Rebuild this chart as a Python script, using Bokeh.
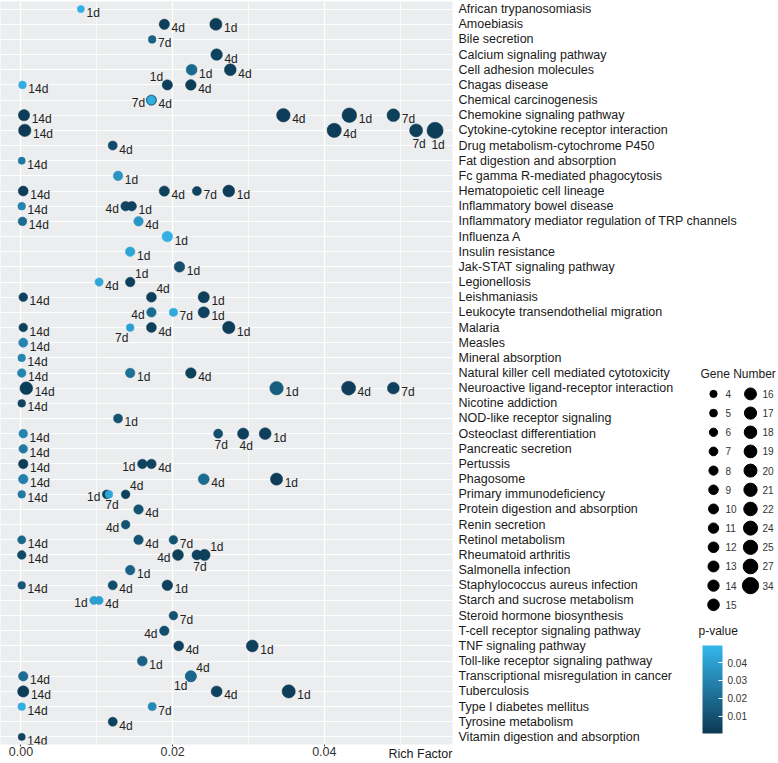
import numpy as np
from bokeh.plotting import figure
from bokeh.models import (ColumnDataSource, FactorRange, Range1d, LinearColorMapper, ColorBar,
                          SingleIntervalTicker, NumeralTickFormatter, FixedTicker,
                          PrintfTickFormatter)
from bokeh.layouts import row
from bokeh.embed import file_html
from bokeh.resources import INLINE
from bokeh.core.properties import value

# ---------------- data ----------------
pathways = [
    "African trypanosomiasis", "Amoebiasis", "Bile secretion", "Calcium signaling pathway",
    "Cell adhesion molecules", "Chagas disease", "Chemical carcinogenesis",
    "Chemokine signaling pathway", "Cytokine-cytokine receptor interaction",
    "Drug metabolism-cytochrome P450", "Fat digestion and absorption",
    "Fc gamma R-mediated phagocytosis", "Hematopoietic cell lineage",
    "Inflammatory bowel disease", "Inflammatory mediator regulation of TRP channels",
    "Influenza A", "Insulin resistance", "Jak-STAT signaling pathway", "Legionellosis",
    "Leishmaniasis", "Leukocyte transendothelial migration", "Malaria", "Measles",
    "Mineral absorption", "Natural killer cell mediated cytotoxicity",
    "Neuroactive ligand-receptor interaction", "Nicotine addiction",
    "NOD-like receptor signaling", "Osteoclast differentiation", "Pancreatic secretion",
    "Pertussis", "Phagosome", "Primary immunodeficiency", "Protein digestion and absorption",
    "Renin secretion", "Retinol metabolism", "Rheumatoid arthritis", "Salmonella infection",
    "Staphylococcus aureus infection", "Starch and sucrose metabolism",
    "Steroid hormone biosynthesis", "T-cell receptor signaling pathway",
    "TNF signaling pathway", "Toll-like receptor signaling pathway",
    "Transcriptional misregulation in cancer", "Tuberculosis", "Type I diabetes mellitus",
    "Tyrosine metabolism", "Vitamin digestion and absorption",
]

pt_path = [
    "African trypanosomiasis",
    "Amoebiasis", "Amoebiasis",
    "Bile secretion",
    "Calcium signaling pathway",
    "Cell adhesion molecules", "Cell adhesion molecules",
    "Chagas disease", "Chagas disease", "Chagas disease",
    "Chemical carcinogenesis", "Chemical carcinogenesis",
    "Chemokine signaling pathway", "Chemokine signaling pathway", "Chemokine signaling pathway", "Chemokine signaling pathway",
    "Cytokine-cytokine receptor interaction", "Cytokine-cytokine receptor interaction",
    "Cytokine-cytokine receptor interaction", "Cytokine-cytokine receptor interaction",
    "Drug metabolism-cytochrome P450",
    "Fat digestion and absorption",
    "Fc gamma R-mediated phagocytosis",
    "Hematopoietic cell lineage", "Hematopoietic cell lineage", "Hematopoietic cell lineage", "Hematopoietic cell lineage",
    "Inflammatory bowel disease", "Inflammatory bowel disease", "Inflammatory bowel disease",
    "Inflammatory mediator regulation of TRP channels", "Inflammatory mediator regulation of TRP channels",
    "Influenza A",
    "Insulin resistance",
    "Jak-STAT signaling pathway",
    "Legionellosis", "Legionellosis",
    "Leishmaniasis", "Leishmaniasis", "Leishmaniasis",
    "Leukocyte transendothelial migration", "Leukocyte transendothelial migration", "Leukocyte transendothelial migration",
    "Malaria", "Malaria", "Malaria", "Malaria",
    "Measles",
    "Mineral absorption",
    "Natural killer cell mediated cytotoxicity", "Natural killer cell mediated cytotoxicity", "Natural killer cell mediated cytotoxicity",
    "Neuroactive ligand-receptor interaction", "Neuroactive ligand-receptor interaction",
    "Neuroactive ligand-receptor interaction", "Neuroactive ligand-receptor interaction",
    "Nicotine addiction",
    "NOD-like receptor signaling",
    "Osteoclast differentiation", "Osteoclast differentiation", "Osteoclast differentiation", "Osteoclast differentiation",
    "Pancreatic secretion",
    "Pertussis", "Pertussis", "Pertussis",
    "Phagosome", "Phagosome", "Phagosome",
    "Primary immunodeficiency", "Primary immunodeficiency", "Primary immunodeficiency", "Primary immunodeficiency",
    "Protein digestion and absorption",
    "Renin secretion",
    "Retinol metabolism", "Retinol metabolism", "Retinol metabolism",
    "Rheumatoid arthritis", "Rheumatoid arthritis", "Rheumatoid arthritis", "Rheumatoid arthritis",
    "Salmonella infection",
    "Staphylococcus aureus infection", "Staphylococcus aureus infection", "Staphylococcus aureus infection",
    "Starch and sucrose metabolism", "Starch and sucrose metabolism",
    "Steroid hormone biosynthesis",
    "T-cell receptor signaling pathway",
    "TNF signaling pathway", "TNF signaling pathway",
    "Toll-like receptor signaling pathway",
    "Transcriptional misregulation in cancer", "Transcriptional misregulation in cancer", "Transcriptional misregulation in cancer",
    "Tuberculosis", "Tuberculosis", "Tuberculosis",
    "Type I diabetes mellitus", "Type I diabetes mellitus",
    "Tyrosine metabolism",
    "Vitamin digestion and absorption",
]

pt_day = [
    "1d",
    "4d", "1d",
    "7d",
    "4d",
    "1d", "4d",
    "14d", "1d", "4d",
    "4d", "7d",
    "14d", "4d", "1d", "7d",
    "14d", "4d", "7d", "1d",
    "4d",
    "14d",
    "1d",
    "14d", "4d", "7d", "1d",
    "14d", "4d", "1d",
    "14d", "4d",
    "1d",
    "1d",
    "1d",
    "4d", "1d",
    "14d", "4d", "1d",
    "4d", "7d", "1d",
    "14d", "7d", "4d", "1d",
    "14d",
    "14d",
    "14d", "1d", "4d",
    "14d", "1d", "4d", "7d",
    "14d",
    "1d",
    "14d", "7d", "4d", "1d",
    "14d",
    "14d", "1d", "4d",
    "14d", "4d", "1d",
    "14d", "1d", "7d", "4d",
    "4d",
    "4d",
    "14d", "4d", "7d",
    "14d", "4d", "7d", "1d",
    "1d",
    "14d", "4d", "1d",
    "1d", "4d",
    "7d",
    "4d",
    "4d", "1d",
    "1d",
    "14d", "1d", "4d",
    "14d", "4d", "1d",
    "14d", "7d",
    "4d",
    "14d",
]

pt_rich = [
    0.0079,
    0.0189, 0.0257,
    0.0173,
    0.0258,
    0.0225, 0.0276,
    0.0002, 0.0193, 0.0224,
    0.0172, 0.0172,
    0.0004, 0.0346, 0.0433, 0.0491,
    0.0005, 0.0413, 0.0521, 0.0546,
    0.0121,
    0.0001,
    0.0128,
    0.0003, 0.0189, 0.0232, 0.0274,
    0.0001, 0.0138, 0.0146,
    0.0002, 0.0155,
    0.0193,
    0.0144,
    0.0209,
    0.0103, 0.0144,
    0.0003, 0.0172, 0.0241,
    0.0172, 0.0201, 0.0241,
    0.0003, 0.0144, 0.0172, 0.0274,
    0.0003,
    0.0001,
    0.0001, 0.0144, 0.0224,
    0.0007, 0.0337, 0.0432, 0.0491,
    0.0001,
    0.0128,
    0.0003, 0.0260, 0.0293, 0.0322,
    0.0003,
    0.0003, 0.0160, 0.0172,
    0.0003, 0.0241, 0.0337,
    0.0001, 0.0113, 0.0116, 0.0138,
    0.0155,
    0.0138,
    0.0001, 0.0155, 0.0201,
    0.0001, 0.0207, 0.0232, 0.0242,
    0.0144,
    0.0001, 0.0121, 0.0193,
    0.0096, 0.0103,
    0.0201,
    0.0189,
    0.0208, 0.0305,
    0.0160,
    0.0003, 0.0224, 0.0224,
    0.0003, 0.0258, 0.0353,
    0.0001, 0.0173,
    0.0121,
    0.0001,
]

pt_genes = [
    4,
    11, 17,
    5,
    15,
    13, 16,
    5, 11, 12,
    11, 7,
    14, 22, 27, 19,
    18, 25, 20, 34,
    8,
    4,
    9,
    10, 11, 8, 16,
    5, 9, 9,
    7, 9,
    12,
    9,
    12,
    6, 9,
    7, 10, 14,
    9, 6, 14,
    7, 5, 10, 18,
    8,
    5,
    7, 9, 12,
    19, 22, 24, 16,
    5,
    8,
    7, 8, 14, 16,
    7,
    9, 9, 9,
    9, 13, 17,
    5, 7, 5, 7,
    9,
    7,
    6, 9, 7,
    7, 13, 10, 14,
    9,
    5, 8, 12,
    6, 6,
    7,
    9,
    10, 16,
    10,
    9, 13, 13,
    14, 13, 21,
    5, 6,
    8,
    4,
]

pt_pval = [
    0.047,
    0.003, 0.002,
    0.016,
    0.004,
    0.019, 0.003,
    0.046, 0.002, 0.002,
    0.003, 0.045,
    0.002, 0.002, 0.002, 0.003,
    0.001, 0.002, 0.003, 0.002,
    0.007,
    0.025,
    0.036,
    0.002, 0.003, 0.004, 0.002,
    0.030, 0.005, 0.004,
    0.020, 0.036,
    0.047,
    0.042,
    0.008,
    0.043, 0.003,
    0.004, 0.003, 0.003,
    0.020, 0.044, 0.004,
    0.003, 0.040, 0.003, 0.002,
    0.030,
    0.030,
    0.030, 0.022, 0.003,
    0.002, 0.014, 0.002, 0.003,
    0.005,
    0.010,
    0.030, 0.008, 0.003, 0.003,
    0.025,
    0.002, 0.004, 0.004,
    0.028, 0.020, 0.002,
    0.025, 0.003, 0.042, 0.004,
    0.010,
    0.010,
    0.018, 0.010, 0.010,
    0.006, 0.003, 0.004, 0.003,
    0.016,
    0.012, 0.008, 0.003,
    0.040, 0.040,
    0.010,
    0.008,
    0.004, 0.003,
    0.016,
    0.020, 0.018, 0.018,
    0.002, 0.004, 0.002,
    0.046, 0.032,
    0.004,
    0.005,
]

gene_legend = [4, 5, 6, 7, 8, 9, 10, 11, 12, 13, 14, 15,
               16, 17, 18, 19, 20, 21, 22, 24, 25, 27, 34]
pval_ticks = [0.01, 0.02, 0.03, 0.04]
x_title = "Rich Factor"

# label placement (style only: which side of the dot the day label sits)
lab_pos = [
    "r",
    "r", "r",
    "r",
    "r",
    "r", "r",
    "r", "ul", "r",
    "r", "l",
    "r", "r", "r", "r",
    "r", "r", "b", "b",
    "r",
    "r",
    "r",
    "r", "r", "r", "r",
    "r", "l", "r",
    "r", "r",
    "r",
    "r",
    "r",
    "r", "ur",
    "r", "ur", "r",
    "l", "r", "r",
    "r", "bl", "r", "r",
    "r",
    "r",
    "r", "r", "r",
    "r", "r", "r", "r",
    "r",
    "r",
    "r", "b", "b", "r",
    "r",
    "r", "l", "r",
    "r", "r", "r",
    "r", "l", "b", "ur",
    "r",
    "l",
    "r", "r", "r",
    "r", "l", "b", "ur",
    "r",
    "r", "r", "r",
    "l", "r",
    "r",
    "l",
    "r", "r",
    "r",
    "r", "bl", "ur",
    "r", "r", "r",
    "r", "r",
    "r",
    "r",
]

# ---------------- styling helpers ----------------
FONT = "Liberation Sans"
W, H = 778, 763
TOP, BOTTOM = 1, 16          # borders around the plotting frame
FB = H - BOTTOM              # page y of frame bottom


def diam(n):
    return 2.5 + 2.35 * np.sqrt(np.asarray(n, dtype=float))


def lerp_palette(c0, c1, n=256):
    a = np.array([int(c0[i:i + 2], 16) for i in (1, 3, 5)], dtype=float)
    b = np.array([int(c1[i:i + 2], 16) for i in (1, 3, 5)], dtype=float)
    out = []
    for t in np.linspace(0, 1, n):
        c = a + (b - a) * t
        out.append("#%02x%02x%02x" % tuple(int(round(v)) for v in c))
    return out


pal = lerp_palette("#0C3954", "#35B7ED")
mapper = LinearColorMapper(palette=pal, low=0.0002, high=0.0496)

sizes = diam(pt_genes)
dx, dy, align = [], [], []
for s, pos in zip(sizes, lab_pos):
    r = s / 2.0
    if pos == "r":
        dx.append(r + 2); dy.append(4); align.append("left")
    elif pos == "l":
        dx.append(-(r + 2)); dy.append(3); align.append("right")
    elif pos == "ur":
        dx.append(r); dy.append(-8); align.append("left")
    elif pos == "ul":
        dx.append(-(r - 1)); dy.append(-8); align.append("right")
    elif pos == "bl":
        dx.append(-(r - 2)); dy.append(10); align.append("right")
    else:  # "b"
        dx.append(3); dy.append(r + 7); align.append("center")

src = ColumnDataSource(dict(x=pt_rich, y=pt_path, day=pt_day, genes=pt_genes, pval=pt_pval,
                            size=sizes, dx=dx, dy=dy, align=align))


def style_xaxis(ax, color):
    ax.axis_line_color = None
    ax.major_tick_out = 2
    ax.major_tick_in = 0
    ax.minor_tick_line_color = None
    ax.minor_tick_out = 0
    ax.minor_tick_in = 0
    ax.major_label_standoff = 0
    ax.major_label_text_font = FONT
    ax.major_label_text_font_size = "12.5px"
    ax.major_label_text_color = color


# ---------------- main plot ----------------
p = figure(y_range=FactorRange(factors=pathways[::-1]),
           x_range=Range1d(-0.0027, 0.0569),
           width=W, height=H,
           y_axis_location="right", output_backend="svg", toolbar_location=None,
           min_border_left=0, min_border_top=TOP, min_border_right=W - 452,
           min_border_bottom=BOTTOM,
           background_fill_color="#ECEDEF", border_fill_color="white",
           outline_line_color=None)

p.xaxis.ticker = SingleIntervalTicker(interval=0.02, num_minor_ticks=2)
p.xaxis.formatter = NumeralTickFormatter(format="0.00")
style_xaxis(p.xaxis[0], "#333333")
p.xaxis.major_tick_line_color = "#444444"

p.yaxis.axis_line_color = None
p.yaxis.major_tick_line_color = None
p.yaxis.major_tick_out = 0
p.yaxis.major_tick_in = 0
p.yaxis.major_label_standoff = 6
p.yaxis.major_label_text_font = FONT
p.yaxis.major_label_text_font_size = "12.5px"
p.yaxis.major_label_text_color = "#1a1a1a"

p.xgrid.grid_line_color = "white"
p.xgrid.grid_line_width = 1.3
p.xgrid.minor_grid_line_color = "white"
p.xgrid.minor_grid_line_width = 0.7
p.ygrid.grid_line_color = "white"
p.ygrid.grid_line_width = 1.1

p.scatter("x", "y", size="size", source=src,
          fill_color={"field": "pval", "transform": mapper},
          line_color={"field": "pval", "transform": mapper}, line_width=0.5)

p.text("x", "y", text="day", x_offset="dx", y_offset="dy", text_align="align",
       text_baseline="middle", text_font=value(FONT), text_font_size=value("12px"),
       text_color="#222222", source=src)

# ---------------- overlay (legends + axis title) ----------------
# its frame coincides with the main frame vertically; coordinates are page pixels
ov = figure(width=W, height=H, x_range=Range1d(0, W), y_range=Range1d(FB, TOP),
            y_axis_location=None,
            output_backend="svg", toolbar_location=None,
            min_border_left=0, min_border_right=0, min_border_top=TOP, min_border_bottom=BOTTOM,
            outline_line_color=None, background_fill_color=None, border_fill_color=None,
            margin=(0, 0, 0, -W))
ov.grid.visible = False
# x-axis title sitting on the same line as the tick labels
ov.xaxis.ticker = FixedTicker(ticks=[420])
ov.xaxis.formatter = PrintfTickFormatter(format=x_title)
style_xaxis(ov.xaxis[0], "#1a1a1a")
ov.xaxis.major_tick_line_color = None

ov.text(x=[700], y=[375], text=["Gene Number"], text_font=value(FONT),
        text_font_size=value("12px"), text_color="#1a1a1a", text_baseline="middle")

n1 = 12
gx, gy, tx = [], [], []
for i, g in enumerate(gene_legend):
    col = 0 if i < n1 else 1
    k = i if i < n1 else i - n1
    gx.append(713 if col == 0 else 750)
    tx.append(725 if col == 0 else 762)
    gy.append(395 + 19.25 * k)
ov.scatter(x=gx, y=gy, size=diam(gene_legend), color="black")
ov.text(x=tx, y=gy, text=[str(g) for g in gene_legend], text_font=value(FONT),
        text_font_size=value("10px"), text_color="#333333", text_baseline="middle")

ov.text(x=[698], y=[633], text=["p-value"], text_font=value(FONT),
        text_font_size=value("12px"), text_color="#1a1a1a", text_baseline="middle")

cb = ColorBar(color_mapper=mapper, ticker=FixedTicker(ticks=pval_ticks),
              formatter=NumeralTickFormatter(format="0.00"),
              orientation="vertical", width=20, height=88, padding=0,
              location=(702, FB - 736),
              major_tick_line_color="white", major_tick_in=4, major_tick_out=0,
              minor_tick_line_color=None, bar_line_color=None,
              major_label_text_font=FONT, major_label_text_font_size="10px",
              major_label_text_color="#333333", label_standoff=5,
              background_fill_color=None, border_line_color=None)
ov.add_layout(cb, "center")

layout = row(p, ov)
open("out.html", "w").write(file_html(layout, INLINE))
